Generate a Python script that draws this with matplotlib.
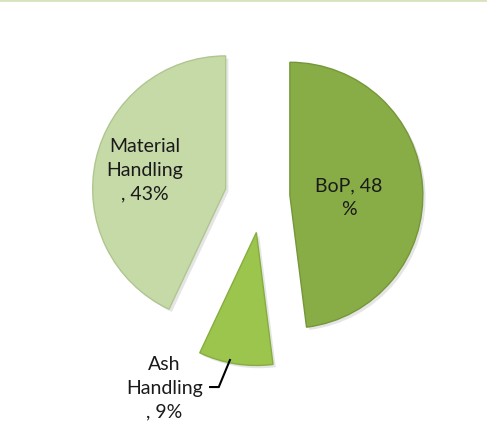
import matplotlib.pyplot as plt
import matplotlib.patheffects as pe
from matplotlib.lines import Line2D

# ==============================
# Data
# ==============================
labels = ["BoP, 48\n%", "Ash\nHandling\n, 9%", "Material\nHandling\n, 43%"]
shares = [48, 9, 43]
colors = ["#89ad46", "#9cc54e", "#c6daa7"]
edge_colors = ["#759739", "#86ad3f", "#b0c690"]
explode = [0.21, 0.27, 0.28]

# ==============================
# Figure
# ==============================
plt.rcParams["font.family"] = ["Lato", "DejaVu Sans"]

fig = plt.figure(figsize=(4.87, 4.27), dpi=100)
ax = fig.add_axes([0, 0, 1, 1])

wedges, _ = ax.pie(
    shares,
    colors=colors,
    explode=explode,
    startangle=90,
    counterclock=False,
    radius=1.0,
)

for w, ec in zip(wedges, edge_colors):
    w.set_edgecolor(ec)
    w.set_linewidth(1.0)
    w.set_path_effects([
        pe.SimplePatchShadow(offset=(2, -2), shadow_rgbFace="#d4d4d4", alpha=0.6),
        pe.Normal(),
    ])

# pie centre sits at (262, 198) px, radius 133 px
ax.set_xlim(-1.970, 1.692)
ax.set_ylim(-1.722, 1.489)
ax.set_aspect("equal")
ax.axis("off")

# labels
label_pos = [(0.654, 0.0), (-0.735, -1.43), (-0.88, 0.21)]
for txt, (x, y) in zip(labels, label_pos):
    ax.text(x, y, txt, ha="center", va="center", fontsize=14,
            color="#1a1a1a", linespacing=1.45)

# leader line for Ash Handling
ax.plot([-0.39, -0.325, -0.241], [-1.429, -1.429, -1.226],
        color="black", lw=1.5, solid_joinstyle="miter")

# thin border line at the top
fig.add_artist(Line2D([0, 0.996], [0.997, 0.997], transform=fig.transFigure,
                      color="#d6e3bc", lw=2))

fig.savefig("out.png", dpi=100)
